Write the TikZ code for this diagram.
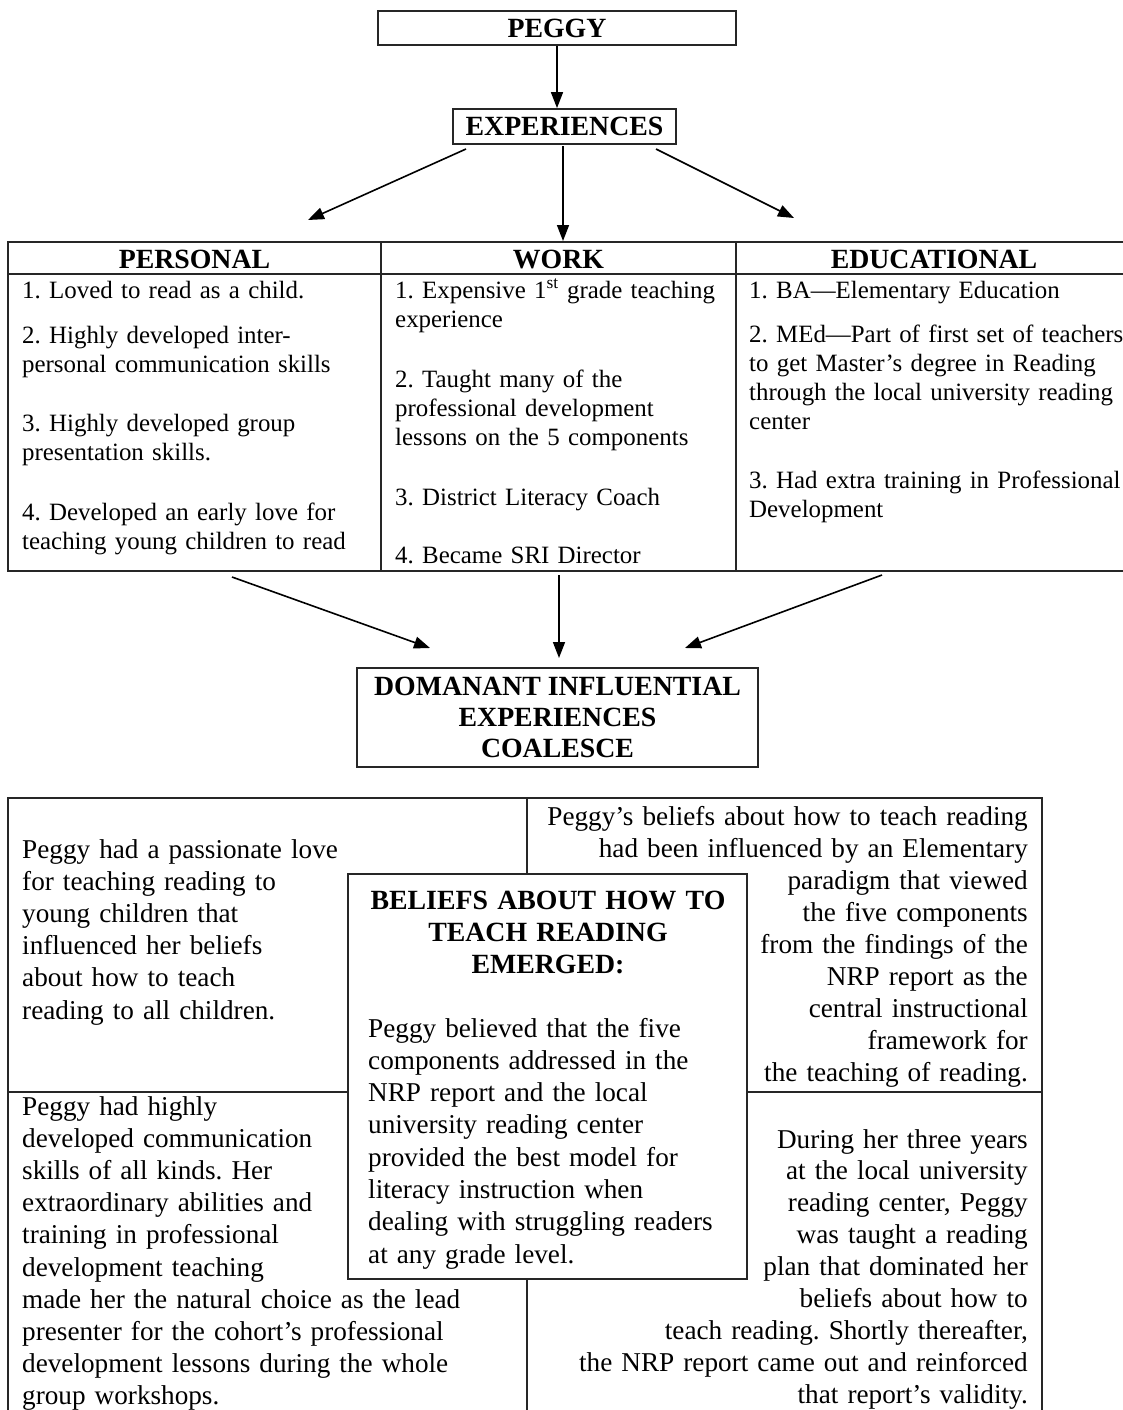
\documentclass[tikz,border=0pt]{standalone}
\usepackage{fontspec}
\setmainfont{Liberation Serif}
\usetikzlibrary{arrows.meta}
\frenchspacing
\newcommand\fbig{\fontsize{27.2}{32.2}\selectfont}
\newcommand\ftab{\fontsize{24.9}{29}\selectfont}
\begin{document}
\frenchspacing
\begin{tikzpicture}[x=1pt,y=-1pt,
  frame/.style={draw=black!85, line width=1.8pt},
  arr/.style={draw, line width=1.6pt, -{Triangle[length=16pt,width=12pt]}},
  titlebox/.style={frame, font=\fontsize{27.8}{31}\selectfont\bfseries, inner sep=0pt, align=center},
  hdr/.style={font=\fontsize{27.8}{31}\selectfont\bfseries, anchor=base, inner sep=0pt},
  item/.style={font=\ftab, anchor=base west, inner sep=0pt, text width=420pt, align=left},
  bodyL/.style={font=\fbig, anchor=base west, inner sep=0pt, text width=560pt, align=left},
  bodyR/.style={font=\fbig, anchor=base east, inner sep=0pt, text width=560pt, align=right},
]
\useasboundingbox[fill=white] (0,0) rectangle (1123,1410);

% top boxes
\node[titlebox, minimum width=358pt, minimum height=34pt] (peggy) at (557,28) {PEGGY};
\node[titlebox, minimum width=223pt, minimum height=35pt] (exp) at (564.5,126.5) {EXPERIENCES};
\draw[arr] (peggy.south) -- (peggy.south |- exp.north);

% arrows to table
\coordinate (eL0) at (466,149); \coordinate (eL1) at (308,220);
\coordinate (eM0) at (563,146); \coordinate (eM1) at (563,241);
\coordinate (eR0) at (656,149); \coordinate (eR1) at (794,218);
\draw[arr] (eL0) -- (eL1);
\draw[arr] (eM0) -- (eM1);
\draw[arr] (eR0) -- (eR1);

% table
\draw[frame] (1135,242) -- (8,242) -- (8,571) -- (1135,571);
\draw[frame] (8,274) -- (1135,274);
\draw[frame] (381,242) -- (381,571);
\draw[frame] (736,242) -- (736,571);
\node[hdr] (hP) at (194.5,268) {PERSONAL};
\node[hdr] (hW) at (558.5,268) {WORK};
\node[hdr] (hE) at (934,268) {EDUCATIONAL};

\node[item] (p1) at (22,298) {1. Loved to read as a child.};
\node[item] (p2) at (22,343) {2. Highly developed inter-\\personal communication skills};
\node[item] (p3) at (22,431) {3. Highly developed group\\presentation skills.};
\node[item] (p4) at (22,520) {4. Developed an early love for\\teaching young children to read};

\node[item] (w1) at (395,298) {1. Expensive 1\textsuperscript{st} grade teaching\\experience};
\node[item] (w2) at (395,387) {2. Taught many of the\\professional development\\lessons on the 5 components};
\node[item] (w3) at (395,505) {3. District Literacy Coach};
\node[item] (w4) at (395,563) {4. Became SRI Director};

\node[item] (d1) at (749,298) {1. BA—Elementary Education};
\node[item] (d2) at (749,342) {2. MEd—Part of first set of teachers\\to get Master’s degree in Reading\\through the local university reading\\center};
\node[item] (d3) at (749,488) {3. Had extra training in Professional\\Development};

% arrows to coalesce box
\node[titlebox, minimum width=401pt, minimum height=99pt] (dom) at (557.5,717.5)
  {DOMANANT INFLUENTIAL\\EXPERIENCES\\COALESCE};
\coordinate (tL) at (232,577); \coordinate (tM) at (559,575); \coordinate (tR) at (882,575);
\draw[arr] (tL) -- (430,648) coordinate (dL);
\draw[arr] (tM) -- (559,658) coordinate (dM);
\draw[arr] (tR) -- (685,648) coordinate (dR);

% bottom grid
\draw[frame] (8,1420) -- (8,798) -- (1042,798) -- (1042,1420);
\draw[frame] (527,798) -- (527,880);
\draw[frame] (527,1270) -- (527,1420);
\draw[frame] (8,1092) -- (350,1092);
\draw[frame] (745,1092) -- (1042,1092);
\node[frame, fill=white, minimum width=399pt, minimum height=405pt, inner sep=0pt] (bel) at (547.5,1076.5) {};

\node[bodyL] (tl) at (22,858) {Peggy had a passionate love\\for teaching reading to\\young children that\\influenced her beliefs\\about how to teach\\reading to all children.};
\node[bodyR, font=\fontsize{27.2}{32.1}\selectfont] (tr) at (1028,825) {Peggy’s beliefs about how to teach reading\\had been influenced by an Elementary\\paradigm that viewed\\the five components\\from the findings of the\\NRP report as the\\central instructional\\framework for\\the teaching of reading.};
\node[font=\fontsize{27.8}{32}\selectfont\bfseries, anchor=base, inner sep=0pt, text width=390pt, align=center] (belh) at (548,909) {BELIEFS ABOUT HOW TO\\TEACH READING\\EMERGED:};
\node[bodyL, font=\fontsize{27.2}{32.3}\selectfont] (belb) at (368,1037) {Peggy believed that the five\\components addressed in the\\NRP report and the local\\university reading center\\provided the best model for\\literacy instruction when\\dealing with struggling readers\\at any grade level.};
\node[bodyL] (bl) at (22,1115) {Peggy had highly\\developed communication\\skills of all kinds. Her\\extraordinary abilities and\\training in professional\\development teaching\\made her the natural choice as the lead\\presenter for the cohort’s professional\\development lessons during the whole\\group workshops.};
\node[bodyR, font=\fontsize{27.2}{31.9}\selectfont] (br) at (1028,1148) {During her three years\\at the local university\\reading center, Peggy\\was taught a reading\\plan that dominated her\\beliefs about how to\\teach reading. Shortly thereafter,\\the NRP report came out and reinforced\\that report’s validity.};
\end{tikzpicture}
\end{document}
